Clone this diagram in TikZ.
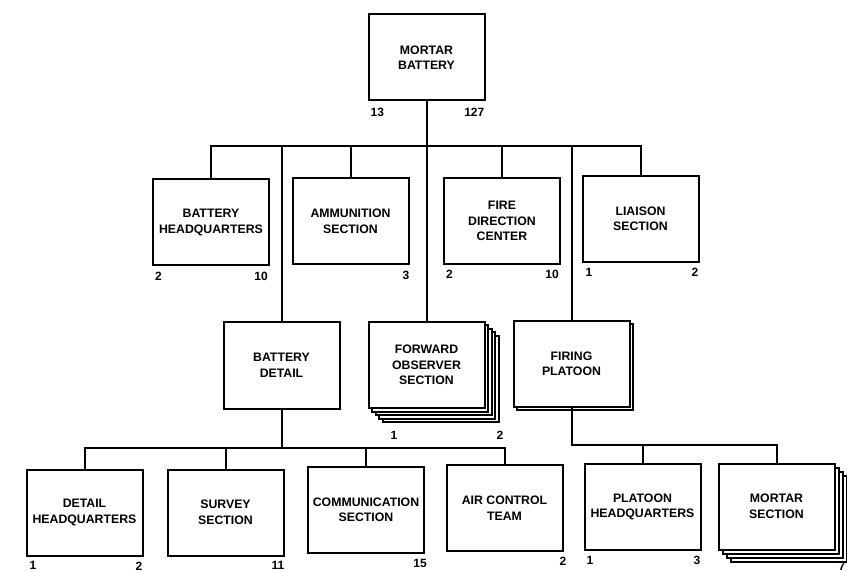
\documentclass[tikz,border=0pt]{standalone}
\usepackage{fontspec}
\setmainfont{Liberation Sans}
\usetikzlibrary{positioning,shadows}

\begin{document}
\begin{tikzpicture}[
  x=1pt, y=-1pt,
  node distance=4pt and 3pt,
  unit/.style={draw=black, line width=2pt, fill=white, align=center,
               minimum width=116pt, minimum height=86pt, inner sep=2pt,
               font=\fontsize{12.3}{15.5}\selectfont\bfseries},
  stackone/.style={unit,
    copy shadow={shadow xshift=3.5pt, shadow yshift=-3pt}},
  stackthree/.style={unit,
    copy shadow={shadow xshift=12pt, shadow yshift=-12pt},
    copy shadow={shadow xshift=8pt, shadow yshift=-8pt},
    copy shadow={shadow xshift=4pt, shadow yshift=-4pt}},
  stackfour/.style={unit,
    copy shadow={shadow xshift=14pt, shadow yshift=-14pt},
    copy shadow={shadow xshift=10.5pt, shadow yshift=-10.5pt},
    copy shadow={shadow xshift=7pt, shadow yshift=-7pt},
    copy shadow={shadow xshift=3.5pt, shadow yshift=-3.5pt}},
  strength/.style={font=\fontsize{12}{13}\selectfont\bfseries, inner sep=0pt},
  link/.style={line width=2pt, draw=black}
]
  \useasboundingbox (0,0) rectangle (847,572);

  \node[unit] (mbty) at (426.5,57.5) {MORTAR\\BATTERY};
  \node[unit] (bhq) at (211,222.5) {BATTERY\\HEADQUARTERS};
  \node[unit] (ammo) at (350.5,221.5) {AMMUNITION\\SECTION};
  \node[unit] (fdc) at (502,221) {FIRE\\DIRECTION\\CENTER};
  \node[unit] (liai) at (640.5,219) {LIAISON\\SECTION};

  \node[unit] (bdet) at (281.5,365.5) {BATTERY\\DETAIL};
  \node[stackfour] (fwdo) at (426.5,365) {FORWARD\\OBSERVER\\SECTION};
  \node[stackone] (fplt) at (571.5,364) {FIRING\\PLATOON};

  \node[unit] (dhq) at (84.5,512.5) {DETAIL\\HEADQUARTERS};
  \node[unit] (surv) at (225.5,512.5) {SURVEY\\SECTION};
  \node[unit] (comm) at (366,510) {COMMUNICATION\\SECTION};
  \node[unit] (airc) at (504.5,508) {AIR CONTROL\\TEAM};
  \node[unit] (phq) at (642.5,507) {PLATOON\\HEADQUARTERS};
  \node[stackthree] (msec) at (776.5,506.5) {MORTAR\\SECTION};

  % officer / enlisted strengths
  \node[strength, below right=6pt and 3pt of mbty.south west] (mbtyoff) {13};
  \node[strength, below left=6pt and 1pt of mbty.south east] (mbtyenl) {127};
  \node[strength, below right=5pt and 3pt of bhq.south west] (bhqoff) {2};
  \node[strength, below left=5pt and 2pt of bhq.south east] (bhqenl) {10};
  \node[strength, below left=5pt and 0pt of ammo.south east] (ammoenl) {3};
  \node[strength, below right=5pt and 3pt of fdc.south west] (fdcoff) {2};
  \node[strength, below left=5pt and 2pt of fdc.south east] (fdcenl) {10};
  \node[strength, below right=5pt and 4pt of liai.south west] (liaioff) {1};
  \node[strength, below left=5pt and 1pt of liai.south east] (liaienl) {2};
  \node[strength, below right=22pt and 23pt of fwdo.south west] (fwdooff) {1};
  \node[strength, below left=22pt and -18pt of fwdo.south east] (fwdoenl) {2};
  \node[strength, below right=5pt and 4pt of dhq.south west] (dhqoff) {1};
  \node[strength, below left=5pt and 1pt of dhq.south east] (dhqenl) {2};
  \node[strength, below left=5pt and 0pt of surv.south east] (survenl) {11};
  \node[strength, below left=5pt and -2pt of comm.south east] (commenl) {15};
  \node[strength, below left=5pt and -3pt of airc.south east] (aircenl) {2};
  \node[strength, below right=5pt and 3pt of phq.south west] (phqoff) {1};
  \node[strength, below left=5pt and 1pt of phq.south east] (phqenl) {3};
  \node[strength, below left=12pt and -10pt of msec.south east] (msecenl) {7};

  \coordinate (topbus) at (0,146);
  \coordinate (detbus) at (0,448);
  \coordinate (pltbus) at (0,445);

  \draw[link] (mbty) -- (fwdo);
  \draw[link] (bhq.north) -- (bhq.north |- topbus) -- (liai.north |- topbus)
    -- (liai.north);
  \foreach \n in {ammo,fdc,bdet,fplt}
    \draw[link] (\n.north) -- (\n.north |- topbus);

  \draw[link] (bdet.south) -- (bdet.south |- detbus);
  \draw[link] (dhq.north) -- (dhq.north |- detbus) -- (airc.north |- detbus)
    -- (airc.north);
  \foreach \n in {surv,comm}
    \draw[link] (\n.north) -- (\n.north |- detbus);

  \draw[link] (fplt.south) |- (msec.north |- pltbus) -- (msec.north);
  \draw[link] (phq.north) -- (phq.north |- pltbus);
\end{tikzpicture}
\end{document}
